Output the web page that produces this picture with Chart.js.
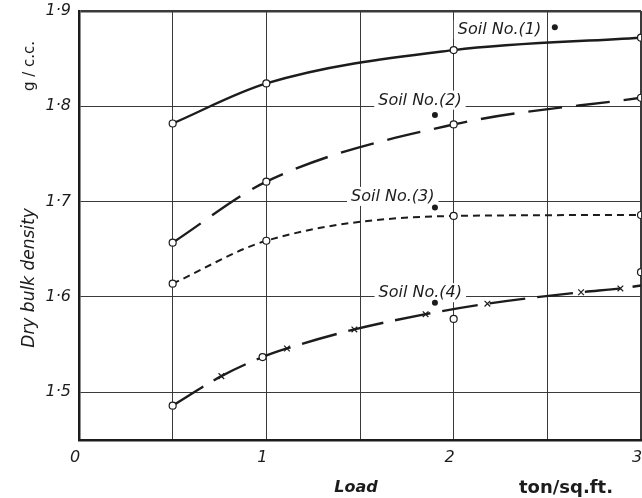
<!DOCTYPE html>
<html>
<head>
<meta charset="utf-8">
<script src="https://cdn.jsdelivr.net/npm/chart.js@4"></script>
<style>
  html, body { margin: 0; padding: 0; background: #fff; }
  #wrap { width: 642px; height: 498px; }
</style>
</head>
<body>
<div id="wrap"><canvas id="chart"></canvas></div>
<script>
// load (ton/sq.ft.) and dry bulk density (g/c.c.)
const soil1X = [0.5, 1, 2, 3];
const soil1Y = [1.782, 1.824, 1.859, 1.872];
const soil2X = [0.5, 1, 2, 3];
const soil2Y = [1.657, 1.721, 1.781, 1.809];
const soil3X = [0.5, 1, 2, 3];
const soil3Y = [1.614, 1.659, 1.685, 1.686];
const soil4X = [0.5, 0.76, 0.98, 1.11, 1.47, 1.85, 2.18, 2.68, 2.89, 3];
const soil4Y = [1.486, 1.517, 1.537, 1.546, 1.566, 1.582, 1.593, 1.605, 1.609, 1.612];
const soil4Marks = ["circle", "crossRot", "circle", "crossRot", "crossRot", "crossRot", "crossRot", "crossRot", "crossRot", false];
const extraCircleX = [2, 3];
const extraCircleY = [1.577, 1.626];
const dotX = [2.54, 1.90, 1.90, 1.90];
const dotY = [1.883, 1.791, 1.694, 1.594];

const xTicks = [0, 0.5, 1, 1.5, 2, 2.5, 3];
const yTicks = [1.5, 1.6, 1.7, 1.8, 1.9];

const curveLabels = ["Soil No.(1)", "Soil No.(2)", "Soil No.(3)", "Soil No.(4)"];
const curveLabelX = [2.245, 1.82, 1.675, 1.822];
const curveLabelY = [1.880, 1.806, 1.705, 1.604];

const INK = "#1c1c1c";
const FONT = "'DejaVu Sans', sans-serif";

const toPoints = (xs, ys) => xs.map((x, i) => ({ x, y: ys[i] }));

function curve(xs, ys, dash, extra) {
    return Object.assign({
        data: toPoints(xs, ys),
        borderColor: INK,
        borderWidth: 2.4,
        borderDash: dash,
        cubicInterpolationMode: "monotone",
        pointStyle: "circle",
        pointRadius: 3.5,
        pointBorderWidth: 1.2,
        pointBorderColor: INK,
        pointBackgroundColor: "#fff",
    }, extra || {});
}

const textPlugin = {
    id: "figureText",
    beforeDatasetsDraw(chart) {
        const { ctx, scales } = chart;
        ctx.save();
        ctx.font = "italic 16px " + FONT;
        curveLabels.forEach((t, i) => {
            const w = ctx.measureText(t).width;
            const cx = scales.x.getPixelForValue(curveLabelX[i]);
            const cy = scales.y.getPixelForValue(curveLabelY[i]);
            ctx.fillStyle = "#fff";
            ctx.fillRect(cx - w / 2 - 4, cy - 10, w + 8, 19);
        });
        ctx.restore();
    },
    afterDatasetsDraw(chart) {
        const { ctx, scales } = chart;
        ctx.save();
        ctx.fillStyle = INK;
        ctx.font = "italic 16px " + FONT;
        ctx.textAlign = "center";
        ctx.textBaseline = "middle";
        curveLabels.forEach((t, i) => {
            ctx.fillText(t, scales.x.getPixelForValue(curveLabelX[i]), scales.y.getPixelForValue(curveLabelY[i]));
        });
        ctx.restore();
    },
    afterDraw(chart) {
        const { ctx } = chart;
        ctx.save();
        ctx.fillStyle = INK;
        ctx.textBaseline = "middle";
        ctx.textAlign = "center";
        ctx.save();
        ctx.translate(30, 278);
        ctx.rotate(-Math.PI / 2);
        ctx.font = "italic 17px " + FONT;
        ctx.fillText("Dry bulk density", 0, 0);
        ctx.restore();
        ctx.save();
        ctx.translate(30, 66);
        ctx.rotate(-Math.PI / 2);
        ctx.font = "15px " + FONT;
        ctx.fillText("g / c.c.", 0, 0);
        ctx.restore();
        ctx.font = "italic bold 16px " + FONT;
        ctx.fillText("Load", 356, 488);
        ctx.font = "bold 18px " + FONT;
        ctx.fillText("ton/sq.ft.", 566, 488);
        ctx.restore();
    },
};

new Chart(document.getElementById("chart"), {
    type: "line",
    data: {
        datasets: [
            curve(soil1X, soil1Y, []),
            curve(soil2X, soil2Y, [34, 14]),
            curve(soil3X, soil3Y, [7, 5], { borderWidth: 2 }),
            curve(soil4X, soil4Y, [36, 12], {
                pointStyle: soil4Marks,
                pointRadius: soil4X.map((x, i) => (soil4Marks[i] === "crossRot" ? 4 : 3.5)),
            }),
            {
                data: toPoints(extraCircleX, extraCircleY),
                showLine: false,
                pointRadius: 3.5,
                pointBorderWidth: 1.2,
                pointBorderColor: INK,
                pointBackgroundColor: "#fff",
            },
            {
                data: toPoints(dotX, dotY),
                showLine: false,
                pointRadius: 3,
                pointBorderWidth: 0,
                pointBackgroundColor: INK,
            },
        ],
    },
    options: {
        responsive: true,
        maintainAspectRatio: false,
        animation: false,
        layout: { autoPadding: false, padding: { top: 11, right: 1, left: 0, bottom: 0 } },
        plugins: {
            legend: { display: false },
            tooltip: { enabled: false },
        },
        scales: {
            x: {
                type: "linear",
                min: 0,
                max: 3,
                afterBuildTicks: (scale) => { scale.ticks = xTicks.map((v) => ({ value: v })); },
                afterFit: (scale) => { scale.height = 58; scale.paddingLeft = 0; scale.paddingRight = 0; },
                border: { display: true, color: INK, width: 2.5 },
                grid: {
                    drawTicks: false,
                    color: "#3a3a3a",
                    lineWidth: (c) => (c.tick && c.tick.value === 3 ? 2.5 : 1),
                },
                ticks: {
                    padding: 8,
                    labelOffset: -4,
                    color: INK,
                    font: { family: FONT, size: 16, style: "italic" },
                    callback: (v) => (Number.isInteger(v) ? String(v) : ""),
                },
            },
            y: {
                type: "linear",
                min: 1.45,
                max: 1.9,
                afterBuildTicks: (scale) => { scale.ticks = yTicks.map((v) => ({ value: v })); },
                afterFit: (scale) => { scale.width = 79; scale.paddingTop = 0; scale.paddingBottom = 0; },
                border: { display: true, color: INK, width: 2.5 },
                grid: {
                    drawTicks: false,
                    color: "#3a3a3a",
                    lineWidth: (c) => (c.tick && c.tick.value === 1.9 ? 2.5 : 1),
                },
                ticks: {
                    padding: 8,
                    color: INK,
                    font: { family: FONT, size: 16, style: "italic" },
                    callback: (v) => v.toFixed(1).replace(".", "·"),
                },
            },
        },
    },
    plugins: [textPlugin],
});
</script>
</body>
</html>
